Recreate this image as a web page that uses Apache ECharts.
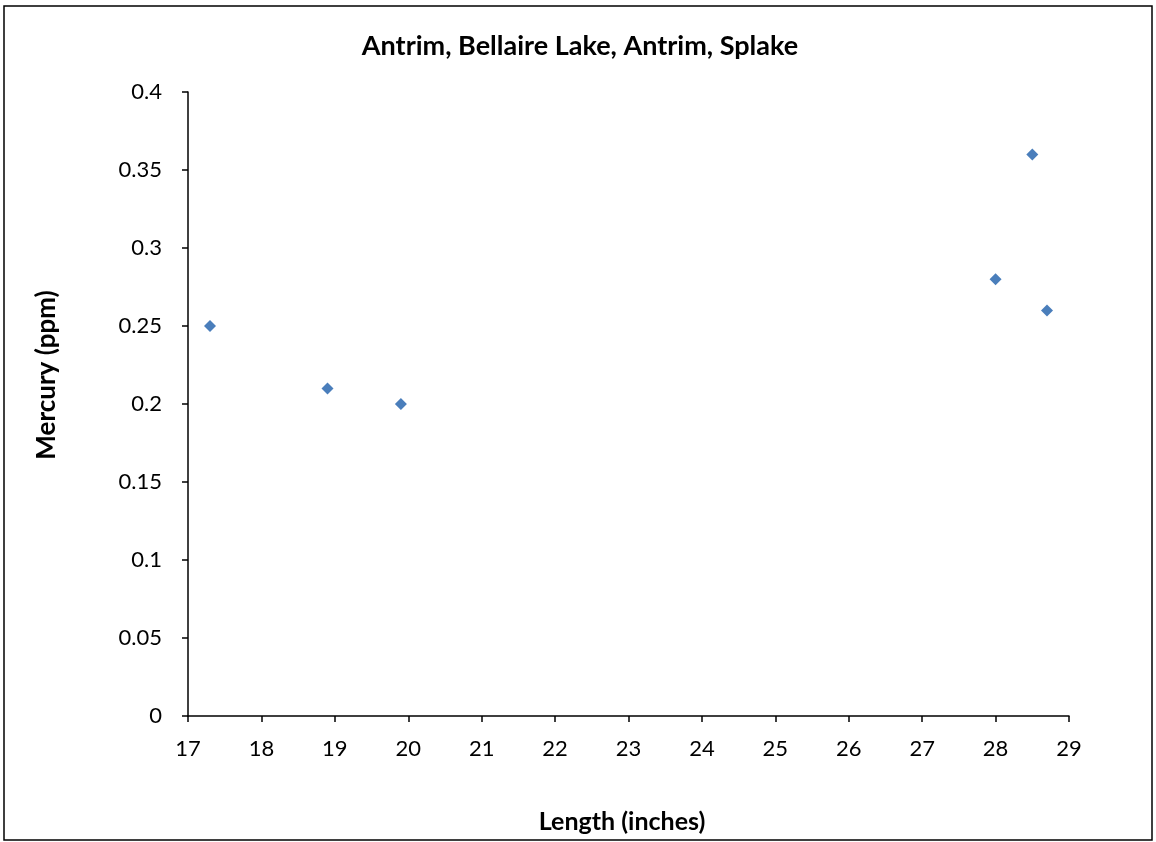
<!DOCTYPE html>
<html>
<head>
<meta charset="utf-8">
<script src="https://cdn.jsdelivr.net/npm/echarts@6/dist/echarts.min.js"></script>
<style>html,body{margin:0;padding:0;background:#fff}#c{width:1156px;height:842px}</style>
</head>
<body>
<div id="c"></div>
<script>
const lengths = [17.3, 18.9, 19.9, 28.0, 28.5, 28.7];
const mercury = [0.25, 0.21, 0.20, 0.28, 0.36, 0.26];
const titleText = 'Antrim, Bellaire Lake, Antrim, Splake';
const xName = 'Length (inches)';
const yName = 'Mercury (ppm)';

const FONT = 'Lato';
const chart = echarts.init(document.getElementById('c'));
chart.setOption({
  animation: false,
  backgroundColor: '#fff',
  textStyle: {fontFamily: FONT},
  graphic: [{
    type: 'rect', shape: {x: 4, y: 6, width: 1148, height: 834},
    style: {fill: 'none', stroke: '#000', lineWidth: 1.5}, z: 100
  }, {
    type: 'text', x: 580, y: 46,
    style: {text: titleText, fontSize: 27, fontWeight: 'bold', fontFamily: FONT, fill: '#000',
      align: 'center', verticalAlign: 'middle'}
  }, {
    type: 'text', x: 47, y: 375, rotation: Math.PI / 2,
    style: {text: yName, fontSize: 26, fontWeight: 'bold', fontFamily: FONT, fill: '#000',
      align: 'center', verticalAlign: 'middle'}
  }, {
    type: 'text', x: 622, y: 822,
    style: {text: xName, fontSize: 25, fontWeight: 'bold', fontFamily: FONT, fill: '#000',
      align: 'center', verticalAlign: 'middle'}
  }],
  grid: {left: 188, right: 87, top: 92, bottom: 126, containLabel: false},
  xAxis: {
    type: 'value', min: 17, max: 29, interval: 1,
    axisLine: {lineStyle: {color: '#000', width: 1.5}},
    axisTick: {show: true, length: 6, lineStyle: {color: '#000', width: 1.5}},
    axisLabel: {fontSize: 22, color: '#000', margin: 22, fontFamily: FONT},
    splitLine: {show: false}
  },
  yAxis: {
    type: 'value', min: 0, max: 0.4, interval: 0.05,
    axisLine: {show: true, lineStyle: {color: '#000', width: 1.5}},
    axisTick: {show: true, length: 6, lineStyle: {color: '#000', width: 1.5}},
    axisLabel: {fontSize: 22, color: '#000', margin: 26, fontFamily: FONT,
      formatter: v => String(Math.round(v * 100) / 100)},
    splitLine: {show: false}
  },
  series: [{
    type: 'scatter',
    data: lengths.map((x, i) => [x, mercury[i]]),
    symbol: 'diamond', symbolSize: 12,
    itemStyle: {color: '#4A7EBB', opacity: 1}
  }]
});
</script>
</body>
</html>
